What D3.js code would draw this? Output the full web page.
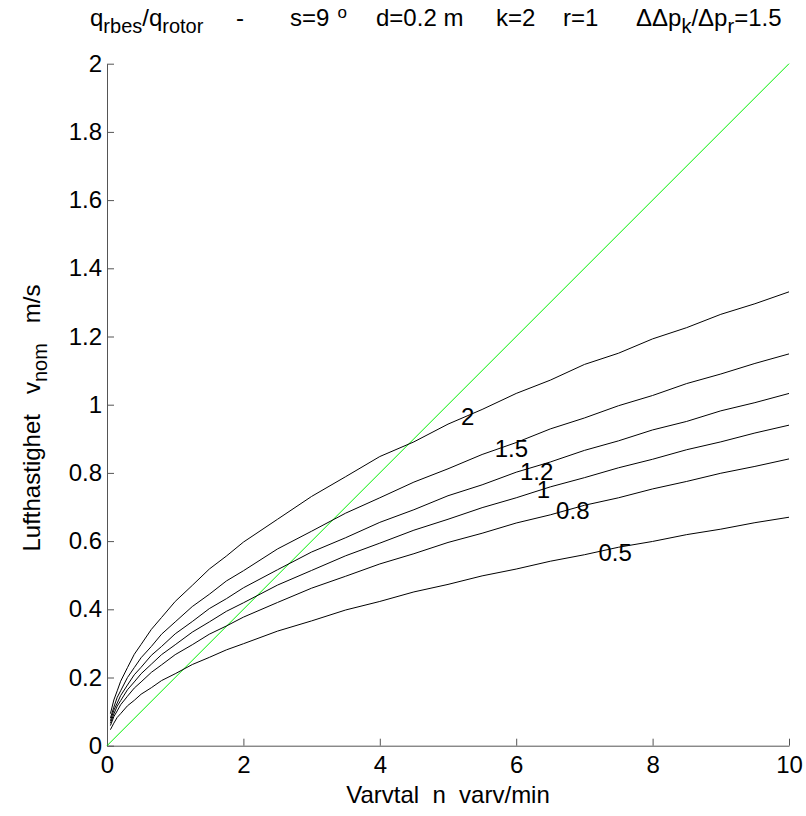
<!DOCTYPE html>
<html>
<head>
<meta charset="utf-8">
<script src="https://cdn.jsdelivr.net/npm/d3@7"></script>
<style>
  html, body { margin: 0; padding: 0; background: #fff; }
  svg { display: block; font-family: "Liberation Sans", Arial, sans-serif; }
</style>
</head>
<body>
<svg id="chart" width="806" height="816"></svg>
<script>
// ---- data ----
const nValues = [0.05, 0.1, 0.15, 0.2, 0.3, 0.4, 0.5, 0.65, 0.8, 1, 1.25, 1.5, 1.75, 2, 2.5, 3, 3.5, 4, 4.5, 5, 5.5, 6, 6.5, 7, 7.5, 8, 8.5, 9, 9.5, 10];
const curveNames = ["2", "1.5", "1.2", "1", "0.8", "0.5"];
const v_2   = [0.094, 0.134, 0.161, 0.189, 0.229, 0.268, 0.297, 0.341, 0.376, 0.423, 0.470, 0.518, 0.556, 0.597, 0.664, 0.731, 0.789, 0.848, 0.891, 0.943, 0.986, 1.033, 1.072, 1.118, 1.151, 1.193, 1.226, 1.265, 1.296, 1.331];
const v_1_5 = [0.081, 0.113, 0.142, 0.161, 0.200, 0.229, 0.258, 0.291, 0.327, 0.363, 0.408, 0.444, 0.483, 0.513, 0.577, 0.629, 0.682, 0.727, 0.773, 0.812, 0.854, 0.889, 0.929, 0.961, 0.997, 1.027, 1.062, 1.090, 1.121, 1.149];
const v_1_2 = [0.073, 0.104, 0.125, 0.147, 0.178, 0.208, 0.230, 0.265, 0.291, 0.328, 0.364, 0.402, 0.431, 0.463, 0.516, 0.568, 0.610, 0.655, 0.692, 0.733, 0.765, 0.802, 0.832, 0.866, 0.894, 0.926, 0.951, 0.982, 1.006, 1.033];
const v_1   = [0.066, 0.093, 0.116, 0.132, 0.164, 0.187, 0.211, 0.239, 0.267, 0.296, 0.333, 0.363, 0.394, 0.419, 0.471, 0.514, 0.557, 0.594, 0.632, 0.664, 0.698, 0.727, 0.759, 0.786, 0.815, 0.840, 0.868, 0.891, 0.917, 0.940];
const v_0_8 = [0.059, 0.085, 0.102, 0.120, 0.145, 0.169, 0.187, 0.215, 0.237, 0.267, 0.296, 0.327, 0.351, 0.377, 0.420, 0.462, 0.497, 0.533, 0.563, 0.596, 0.623, 0.653, 0.677, 0.705, 0.727, 0.753, 0.775, 0.799, 0.819, 0.841];
const v_0_5 = [0.047, 0.066, 0.083, 0.094, 0.117, 0.133, 0.151, 0.170, 0.191, 0.211, 0.238, 0.259, 0.281, 0.299, 0.336, 0.366, 0.398, 0.423, 0.451, 0.473, 0.498, 0.518, 0.541, 0.560, 0.582, 0.599, 0.619, 0.635, 0.654, 0.670];
const curveValues = [v_2, v_1_5, v_1_2, v_1, v_0_8, v_0_5];
const labelX = [5.29, 5.93, 6.30, 6.40, 6.83, 7.45];
const labelY = [0.964, 0.872, 0.803, 0.750, 0.689, 0.566];
const greenX = [0, 10];
const greenY = [0, 2];
const xTicks = [0, 2, 4, 6, 8, 10];
const yTicks = [0, 0.2, 0.4, 0.6, 0.8, 1, 1.2, 1.4, 1.6, 1.8, 2];

// ---- layout ----
const svg = d3.select("#chart");
const x = d3.scaleLinear().domain([0, 10]).range([107, 789]);
const y = d3.scaleLinear().domain([0, 2]).range([745.7, 63.7]);
const FS = 24;
const SUB = 20;
const axisColor = "#555";

// x axis
const gx = svg.append("g")
  .attr("transform", `translate(0,${y(0)})`)
  .call(d3.axisBottom(x).tickValues(xTicks).tickFormat(d3.format("~g"))
    .tickSizeInner(-7).tickSizeOuter(0).tickPadding(10));
// y axis
const gy = svg.append("g")
  .attr("transform", `translate(${x(0)},0)`)
  .call(d3.axisLeft(y).tickValues(yTicks).tickFormat(d3.format("~g"))
    .tickSizeInner(-7).tickSizeOuter(0).tickPadding(5));
[gx, gy].forEach(g => {
  g.select(".domain").attr("stroke", axisColor).attr("stroke-width", 1);
  g.selectAll(".tick line").attr("stroke", axisColor);
  g.selectAll(".tick text").attr("fill", "#000").attr("font-size", FS)
    .attr("font-family", "'Liberation Sans', Arial, sans-serif");
});

// green line
svg.append("path")
  .datum(greenX.map((d, i) => [d, greenY[i]]))
  .attr("fill", "none").attr("stroke", "#00ee00").attr("stroke-width", 1)
  .attr("d", d3.line().x(d => x(d[0])).y(d => y(d[1])));

// curves
const line = d3.line().x(d => x(d[0])).y(d => y(d[1]));
svg.append("g").selectAll("path")
  .data(curveValues)
  .join("path")
  .attr("fill", "none").attr("stroke", "#000").attr("stroke-width", 1)
  .attr("d", vals => line(vals.map((v, i) => [nValues[i], v])));

// curve labels
svg.append("g").selectAll("text")
  .data(curveNames)
  .join("text")
  .attr("x", (d, i) => x(labelX[i]))
  .attr("y", (d, i) => y(labelY[i]))
  .attr("text-anchor", "middle")
  .attr("dominant-baseline", "central")
  .attr("font-size", FS)
  .text(d => d);

// title
const title = svg.append("text").attr("x", 90).attr("y", 26).attr("font-size", FS).attr("fill", "#000");
title.append("tspan").text("q");
title.append("tspan").attr("font-size", SUB).attr("dy", 7).text("rbes");
title.append("tspan").attr("dy", -7).text("/q");
title.append("tspan").attr("font-size", SUB).attr("dy", 7).text("rotor");
title.append("tspan").attr("dy", -7).attr("x", 236).text("-");
title.append("tspan").attr("x", 290).text("s=9");
title.append("tspan").attr("font-size", 17).attr("dy", -8).attr("dx", 8).text("o");
title.append("tspan").attr("dy", 8).attr("x", 376).text("d=0.2 m");
title.append("tspan").attr("x", 496).text("k=2");
title.append("tspan").attr("x", 563).text("r=1");
title.append("tspan").attr("x", 636).text("\u0394\u0394p");
title.append("tspan").attr("font-size", SUB).attr("dy", 7).text("k");
title.append("tspan").attr("dy", -7).text("/\u0394p");
title.append("tspan").attr("font-size", SUB).attr("dy", 7).text("r");
title.append("tspan").attr("dy", -7).text("=1.5");

// x label
svg.append("text").attr("x", 448).attr("y", 803).attr("text-anchor", "middle")
  .attr("font-size", FS).attr("xml:space", "preserve")
  .text("Varvtal  n  varv/min");

// y label
const yl = svg.append("text")
  .attr("transform", "translate(40,418) rotate(-90)")
  .attr("text-anchor", "middle").attr("font-size", FS)
  .attr("xml:space", "preserve");
yl.append("tspan").text("Lufthastighet   v");
yl.append("tspan").attr("font-size", SUB).attr("dy", 7).text("nom");
yl.append("tspan").attr("dy", -7).text("   m/s");
</script>
</body>
</html>
